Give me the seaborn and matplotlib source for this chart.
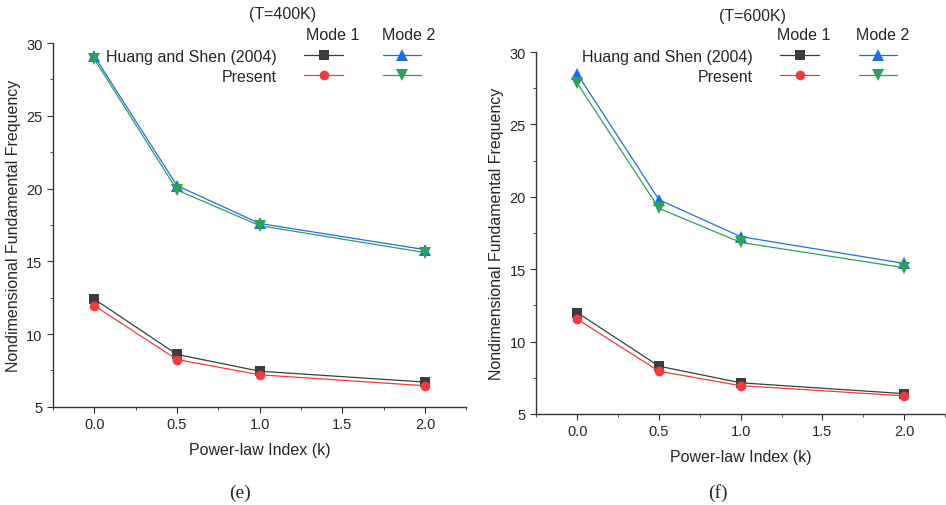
import seaborn as sns
import matplotlib.pyplot as plt
from matplotlib.lines import Line2D
from matplotlib.ticker import MultipleLocator
import pandas as pd

sns.set_style("ticks")
plt.rcParams['font.family'] = ['Liberation Sans', 'DejaVu Sans']

# power-law index
k = [0.0, 0.5, 1.0, 2.0]

# T=400K
huang_m1_400 = [12.4, 8.6, 7.45, 6.7]
present_m1_400 = [11.95, 8.25, 7.2, 6.45]
huang_m2_400 = [29.1, 20.2, 17.6, 15.8]
present_m2_400 = [28.9, 19.9, 17.45, 15.6]

# T=600K
huang_m1_600 = [12.0, 8.3, 7.15, 6.4]
present_m1_600 = [11.55, 7.95, 6.95, 6.25]
huang_m2_600 = [28.5, 19.8, 17.25, 15.4]
present_m2_600 = [27.85, 19.2, 16.85, 15.1]

styles = {
    'huang_m1': dict(color='#3c3c3c', marker='s', ms=6.5),
    'present_m1': dict(color='#f03c3c', marker='o', ms=7),
    'huang_m2': dict(color='#1e6ee6', marker='^', ms=8),
    'present_m2': dict(color='#2ea05a', marker='v', ms=8),
}

W, H = 946, 506
fig = plt.figure(figsize=(W / 100, H / 100), dpi=100)
ax1 = fig.add_axes([0.056, 0.194, 0.437, 0.719])
ax2 = fig.add_axes([0.567, 0.180, 0.432, 0.715])


def draw(ax, series, leg_right):
    for key, vals in series.items():
        df = pd.DataFrame({'k': k, 'f': vals})
        st = styles[key]
        sns.lineplot(data=df, x='k', y='f', ax=ax, color=st['color'],
                     marker=st['marker'], markersize=st['ms'], markeredgewidth=0,
                     linewidth=0.9)
    ax.set_xlim(-0.25, 2.25)
    ax.set_ylim(5, 30)
    ax.set_xticks([0.0, 0.5, 1.0, 1.5, 2.0])
    ax.set_xticklabels(['0.0', '0.5', '1.0', '1.5', '2.0'])
    ax.set_yticks([5, 10, 15, 20, 25, 30])
    ax.xaxis.set_minor_locator(MultipleLocator(0.25))
    ax.yaxis.set_minor_locator(MultipleLocator(2.5))
    ax.tick_params(which='major', length=4, labelsize=10.5, color='#333333')
    ax.tick_params(which='minor', length=2.5, color='#333333')
    for s in ['top', 'right']:
        ax.spines[s].set_visible(False)
    for s in ['left', 'bottom']:
        ax.spines[s].set_color('#333333')
        ax.spines[s].set_linewidth(1.0)
    ax.set_xlabel('Power-law Index (k)', fontsize=11.5, labelpad=8)
    ax.set_ylabel('Nondimensional Fundamental Frequency', fontsize=11.5, labelpad=4)

    handles = [Line2D([], [], color=styles[n]['color'], marker=styles[n]['marker'],
                      markersize=styles[n]['ms'], markeredgewidth=0, linewidth=0.9)
               for n in ['huang_m1', 'present_m1', 'huang_m2', 'present_m2']]
    labels = ['Huang and Shen (2004)', 'Present', '', '']
    ax.legend(handles, labels, ncol=2, markerfirst=False, frameon=False,
              fontsize=11.5, loc='upper right',
              bbox_to_anchor=(leg_right / W, 1 - 50 / H),
              bbox_transform=fig.transFigure, borderpad=0, borderaxespad=0,
              handlelength=2.4, columnspacing=0.8, handletextpad=1.7,
              labelspacing=0.3)


draw(ax1, {'huang_m1': huang_m1_400, 'present_m1': present_m1_400,
           'huang_m2': huang_m2_400, 'present_m2': present_m2_400}, 421)
draw(ax2, {'huang_m1': huang_m1_600, 'present_m1': present_m1_600,
           'huang_m2': huang_m2_600, 'present_m2': present_m2_600}, 897)

fig.text(283 / W, 1 - 15 / H, '(T=400K)', ha='center', va='center', fontsize=11.5)
fig.text(752 / W, 1 - 17 / H, '(T=600K)', ha='center', va='center', fontsize=11.5)
fig.text(333 / W, 1 - 35 / H, 'Mode 1', ha='center', va='center', fontsize=11.5)
fig.text(409 / W, 1 - 35 / H, 'Mode 2', ha='center', va='center', fontsize=11.5)
fig.text(804 / W, 1 - 36 / H, 'Mode 1', ha='center', va='center', fontsize=11.5)
fig.text(883 / W, 1 - 36 / H, 'Mode 2', ha='center', va='center', fontsize=11.5)
fig.text(240 / W, 1 - 493 / H, '(e)', ha='center', va='center', fontsize=14,
         family='Liberation Serif')
fig.text(718 / W, 1 - 493 / H, '(f)', ha='center', va='center', fontsize=14,
         family='Liberation Serif')

fig.savefig('out.png', dpi=100)
